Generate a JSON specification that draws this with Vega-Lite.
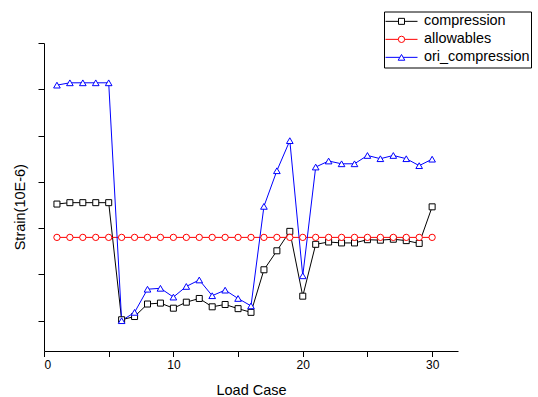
{
  "$schema": "https://vega.github.io/schema/vega-lite/v6.json",
  "width": 414,
  "height": 308,
  "autosize": "none",
  "padding": {"left": 44, "top": 43, "right": 80, "bottom": 46},
  "background": "white",
  "config": {
    "view": {"stroke": null},
    "font": "Liberation Sans",
    "axis": {"grid": false, "domainColor": "black", "tickColor": "black", "labelColor": "black", "titleColor": "black", "labelFont": "Liberation Sans", "titleFont": "Liberation Sans", "titleFontWeight": "normal"}
  },
  "data": {
    "values": [
      {"x": 1, "s": "compression", "v": 2.52}, {"x": 2, "s": "compression", "v": 2.55}, {"x": 3, "s": "compression", "v": 2.55}, {"x": 4, "s": "compression", "v": 2.55}, {"x": 5, "s": "compression", "v": 2.55},
      {"x": 6, "s": "compression", "v": 0.02}, {"x": 7, "s": "compression", "v": 0.09}, {"x": 8, "s": "compression", "v": 0.36}, {"x": 9, "s": "compression", "v": 0.38}, {"x": 10, "s": "compression", "v": 0.27},
      {"x": 11, "s": "compression", "v": 0.40}, {"x": 12, "s": "compression", "v": 0.48}, {"x": 13, "s": "compression", "v": 0.30}, {"x": 14, "s": "compression", "v": 0.35}, {"x": 15, "s": "compression", "v": 0.26},
      {"x": 16, "s": "compression", "v": 0.18}, {"x": 17, "s": "compression", "v": 1.10}, {"x": 18, "s": "compression", "v": 1.51}, {"x": 19, "s": "compression", "v": 1.93}, {"x": 20, "s": "compression", "v": 0.53},
      {"x": 21, "s": "compression", "v": 1.65}, {"x": 22, "s": "compression", "v": 1.70}, {"x": 23, "s": "compression", "v": 1.68}, {"x": 24, "s": "compression", "v": 1.68}, {"x": 25, "s": "compression", "v": 1.75},
      {"x": 26, "s": "compression", "v": 1.74}, {"x": 27, "s": "compression", "v": 1.76}, {"x": 28, "s": "compression", "v": 1.73}, {"x": 29, "s": "compression", "v": 1.67}, {"x": 30, "s": "compression", "v": 2.46},
      {"x": 1, "s": "allowables", "v": 1.8}, {"x": 2, "s": "allowables", "v": 1.8}, {"x": 3, "s": "allowables", "v": 1.8}, {"x": 4, "s": "allowables", "v": 1.8}, {"x": 5, "s": "allowables", "v": 1.8},
      {"x": 6, "s": "allowables", "v": 1.8}, {"x": 7, "s": "allowables", "v": 1.8}, {"x": 8, "s": "allowables", "v": 1.8}, {"x": 9, "s": "allowables", "v": 1.8}, {"x": 10, "s": "allowables", "v": 1.8},
      {"x": 11, "s": "allowables", "v": 1.8}, {"x": 12, "s": "allowables", "v": 1.8}, {"x": 13, "s": "allowables", "v": 1.8}, {"x": 14, "s": "allowables", "v": 1.8}, {"x": 15, "s": "allowables", "v": 1.8},
      {"x": 16, "s": "allowables", "v": 1.8}, {"x": 17, "s": "allowables", "v": 1.8}, {"x": 18, "s": "allowables", "v": 1.8}, {"x": 19, "s": "allowables", "v": 1.8}, {"x": 20, "s": "allowables", "v": 1.8},
      {"x": 21, "s": "allowables", "v": 1.8}, {"x": 22, "s": "allowables", "v": 1.8}, {"x": 23, "s": "allowables", "v": 1.8}, {"x": 24, "s": "allowables", "v": 1.8}, {"x": 25, "s": "allowables", "v": 1.8},
      {"x": 26, "s": "allowables", "v": 1.8}, {"x": 27, "s": "allowables", "v": 1.8}, {"x": 28, "s": "allowables", "v": 1.8}, {"x": 29, "s": "allowables", "v": 1.8}, {"x": 30, "s": "allowables", "v": 1.8},
      {"x": 1, "s": "ori_compression", "v": 5.09}, {"x": 2, "s": "ori_compression", "v": 5.14}, {"x": 3, "s": "ori_compression", "v": 5.14}, {"x": 4, "s": "ori_compression", "v": 5.14}, {"x": 5, "s": "ori_compression", "v": 5.14},
      {"x": 6, "s": "ori_compression", "v": 0.0}, {"x": 7, "s": "ori_compression", "v": 0.18}, {"x": 8, "s": "ori_compression", "v": 0.68}, {"x": 9, "s": "ori_compression", "v": 0.70}, {"x": 10, "s": "ori_compression", "v": 0.51},
      {"x": 11, "s": "ori_compression", "v": 0.74}, {"x": 12, "s": "ori_compression", "v": 0.88}, {"x": 13, "s": "ori_compression", "v": 0.54}, {"x": 14, "s": "ori_compression", "v": 0.66}, {"x": 15, "s": "ori_compression", "v": 0.48},
      {"x": 16, "s": "ori_compression", "v": 0.32}, {"x": 17, "s": "ori_compression", "v": 2.47}, {"x": 18, "s": "ori_compression", "v": 3.24}, {"x": 19, "s": "ori_compression", "v": 3.89}, {"x": 20, "s": "ori_compression", "v": 0.97},
      {"x": 21, "s": "ori_compression", "v": 3.32}, {"x": 22, "s": "ori_compression", "v": 3.45}, {"x": 23, "s": "ori_compression", "v": 3.39}, {"x": 24, "s": "ori_compression", "v": 3.39}, {"x": 25, "s": "ori_compression", "v": 3.57},
      {"x": 26, "s": "ori_compression", "v": 3.50}, {"x": 27, "s": "ori_compression", "v": 3.57}, {"x": 28, "s": "ori_compression", "v": 3.50}, {"x": 29, "s": "ori_compression", "v": 3.35}, {"x": 30, "s": "ori_compression", "v": 3.49}
    ]
  },
  "encoding": {
    "x": {
      "field": "x", "type": "quantitative",
      "scale": {"domain": [0, 32], "nice": false, "zero": false},
      "axis": {
        "title": "Load Case", "titleFontSize": 14.5, "titleBaseline": "middle", "titleY": 39.8,
        "values": [0, 5, 10, 15, 20, 25, 30],
        "labelExpr": "datum.value % 10 === 0 ? datum.label : ''",
        "labelFontSize": 12, "labelPadding": 3, "tickSize": 5.5, "domainWidth": 1, "tickWidth": 1
      }
    },
    "y": {
      "field": "v", "type": "quantitative",
      "scale": {"domain": [-0.655, 6], "nice": false, "zero": false},
      "axis": {
        "title": "Strain(10E-6)", "titleFontSize": 14.5, "titleBaseline": "middle", "titleX": -23.3, "titleY": 163.7,
        "values": [0, 1, 2, 3, 4, 5, 6], "labels": false, "tickSize": 6, "domainWidth": 1, "tickWidth": 1
      }
    }
  },
  "layer": [
    {
      "mark": {"type": "line", "strokeWidth": 1},
      "encoding": {
        "color": {
          "field": "s", "type": "nominal",
          "scale": {"domain": ["compression", "allowables", "ori_compression", " "], "range": ["#000000", "#ff0000", "#0000ff", "#ffffff"]},
          "legend": {
            "title": null, "orient": "none", "legendX": 340, "legendY": -31.5,
            "values": ["compression", "allowables", "ori_compression"],
            "strokeColor": "black", "padding": 1,
            "symbolType": "stroke", "symbolSize": 1024, "symbolStrokeWidth": 1, "symbolOpacity": 1,
            "clipHeight": 17.7, "rowPadding": 0,
            "labelFont": "Liberation Sans", "labelFontSize": 14.4, "labelColor": "black", "labelOffset": 6,
            "labelLimit": 300
          }
        }
      }
    },
    {
      "mark": {"type": "point", "filled": false, "fill": "white", "fillOpacity": 1, "opacity": 1, "strokeWidth": 1},
      "encoding": {
        "stroke": {"field": "s", "type": "nominal", "scale": {"domain": ["compression", "allowables", "ori_compression"], "range": ["#000000", "#ff0000", "#0000ff"]}},
        "shape": {
          "field": "s", "type": "nominal",
          "scale": {"domain": ["compression", "allowables", "ori_compression"], "range": ["square", "circle", "triangle-up"]},
          "legend": {
            "title": null, "orient": "none", "legendX": 340, "legendY": -31.5,
            "padding": 1, "symbolOffset": 9.3, "symbolStrokeWidth": 1, "symbolOpacity": 1, "symbolFillColor": "white",
            "clipHeight": 17.7, "rowPadding": 0,
            "labelFont": "Liberation Sans", "labelFontSize": 14.4, "labelExpr": "''", "labelOffset": 6,
            "labelLimit": 300
          }
        },
        "size": {"field": "s", "type": "nominal", "scale": {"domain": ["compression", "allowables", "ori_compression"], "range": [36, 44, 86]}}
      }
    }
  ]
}
